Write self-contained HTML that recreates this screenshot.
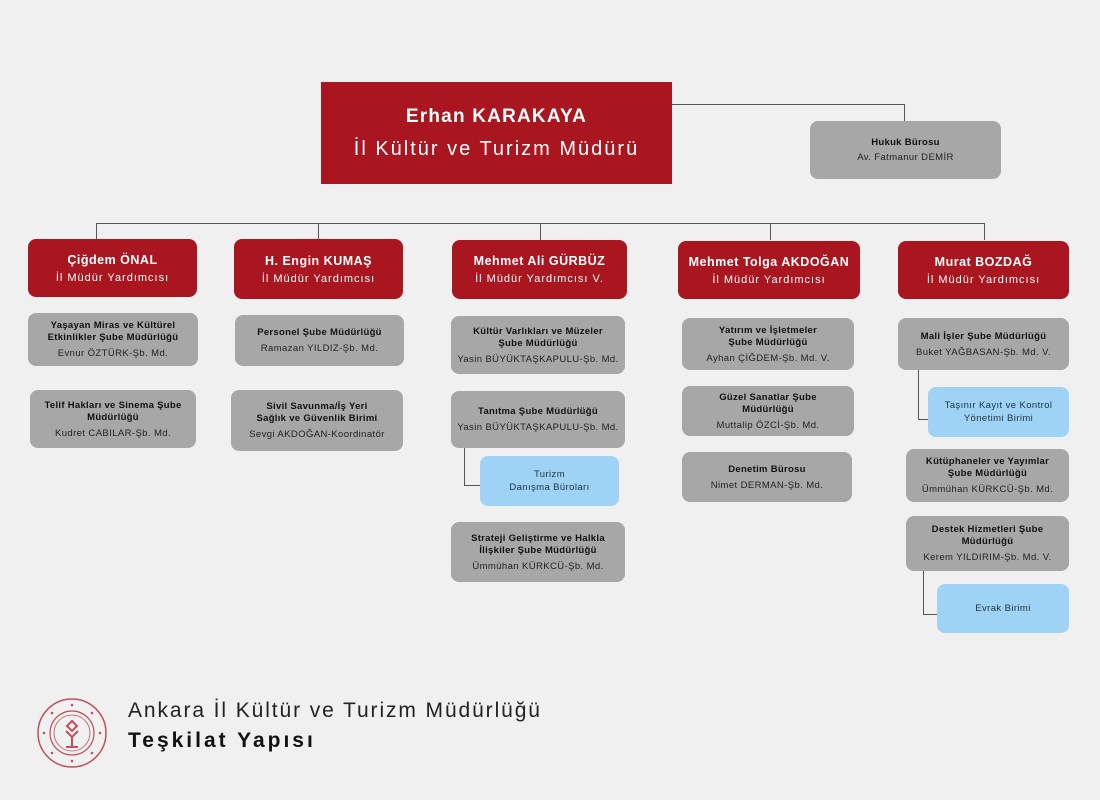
<!DOCTYPE html>
<html><head><meta charset="utf-8"><style>
body{margin:0;width:1100px;height:800px;background:#f0f0f0;position:relative;overflow:hidden;font-family:"Liberation Sans","DejaVu Sans",sans-serif}
.b{position:absolute;box-sizing:border-box;display:flex;flex-direction:column;justify-content:center;align-items:center;text-align:center;border-radius:8px;white-space:nowrap}
.r{background:#a9161f;color:#fff}
.r b{font-size:12.5px;margin-bottom:5px;letter-spacing:0.5px}
.r span{font-size:11px;letter-spacing:1px}
.g{background:#a7a7a7;color:#111}
.g b{font-size:9.5px;line-height:12px;letter-spacing:0.3px}
.g span{font-size:9.5px;margin-top:4px;color:#222;letter-spacing:0.4px}
.l{background:#9ed3f5;color:#234;font-size:9.5px;line-height:13px;letter-spacing:0.4px}
.ln{position:absolute;background:#555}
</style></head><body>
<div class="b r" style="left:321px;top:82px;width:351px;height:102px;border-radius:0"><b style="font-size:19px;margin-bottom:10px;letter-spacing:1.2px">Erhan KARAKAYA</b><span style="font-size:20px;letter-spacing:2px">İl Kültür ve Turizm Müdürü</span></div>
<div class="ln" style="left:672px;top:104px;width:232px;height:1px"></div>
<div class="ln" style="left:904px;top:104px;width:1px;height:17px"></div>
<div class="b g" style="left:810px;top:121px;width:191px;height:58px"><b>Hukuk Bürosu</b><span style="margin-top:3px">Av. Fatmanur DEMİR</span></div>

<div class="ln" style="left:96px;top:223px;width:889px;height:1px"></div>
<div class="ln" style="left:96px;top:223px;width:1px;height:17px"></div>
<div class="ln" style="left:318px;top:223px;width:1px;height:17px"></div>
<div class="ln" style="left:540px;top:223px;width:1px;height:17px"></div>
<div class="ln" style="left:770px;top:223px;width:1px;height:17px"></div>
<div class="ln" style="left:984px;top:223px;width:1px;height:17px"></div>

<div class="b r" style="left:28px;top:239px;width:169px;height:58px"><b>Çiğdem ÖNAL</b><span>İl Müdür Yardımcısı</span></div>
<div class="b r" style="left:234px;top:239px;width:169px;height:60px"><b>H. Engin KUMAŞ</b><span>İl Müdür Yardımcısı</span></div>
<div class="b r" style="left:452px;top:240px;width:175px;height:59px"><b>Mehmet Ali GÜRBÜZ</b><span>İl Müdür Yardımcısı V.</span></div>
<div class="b r" style="left:678px;top:241px;width:182px;height:58px"><b>Mehmet Tolga AKDOĞAN</b><span>İl Müdür Yardımcısı</span></div>
<div class="b r" style="left:898px;top:241px;width:171px;height:58px"><b>Murat BOZDAĞ</b><span>İl Müdür Yardımcısı</span></div>

<div class="b g" style="left:28px;top:313px;width:170px;height:53px"><b>Yaşayan Miras ve Kültürel<br>Etkinlikler Şube Müdürlüğü</b><span>Evnur ÖZTÜRK-Şb. Md.</span></div>
<div class="b g" style="left:30px;top:390px;width:166px;height:58px"><b>Telif Hakları ve Sinema Şube<br>Müdürlüğü</b><span>Kudret CABILAR-Şb. Md.</span></div>

<div class="b g" style="left:235px;top:315px;width:169px;height:51px"><b>Personel Şube Müdürlüğü</b><span>Ramazan YILDIZ-Şb. Md.</span></div>
<div class="b g" style="left:231px;top:390px;width:172px;height:61px"><b>Sivil Savunma/İş Yeri<br>Sağlık ve Güvenlik Birimi</b><span>Sevgi AKDOĞAN-Koordinatör</span></div>

<div class="b g" style="left:451px;top:316px;width:174px;height:58px"><b>Kültür Varlıkları ve Müzeler<br>Şube Müdürlüğü</b><span>Yasin BÜYÜKTAŞKAPULU-Şb. Md.</span></div>
<div class="b g" style="left:451px;top:391px;width:174px;height:57px"><b>Tanıtma Şube Müdürlüğü</b><span>Yasin BÜYÜKTAŞKAPULU-Şb. Md.</span></div>
<div class="ln" style="left:464px;top:448px;width:1px;height:37px"></div>
<div class="ln" style="left:464px;top:485px;width:16px;height:1px"></div>
<div class="b l" style="left:480px;top:456px;width:139px;height:50px">Turizm<br>Danışma Büroları</div>
<div class="b g" style="left:451px;top:522px;width:174px;height:60px"><b>Strateji Geliştirme ve Halkla<br>İlişkiler Şube Müdürlüğü</b><span>Ümmühan KÜRKCÜ-Şb. Md.</span></div>

<div class="b g" style="left:682px;top:318px;width:172px;height:52px"><b>Yatırım ve İşletmeler<br>Şube Müdürlüğü</b><span>Ayhan ÇİĞDEM-Şb. Md. V.</span></div>
<div class="b g" style="left:682px;top:386px;width:172px;height:50px"><b>Güzel Sanatlar Şube<br>Müdürlüğü</b><span>Muttalip ÖZCİ-Şb. Md.</span></div>
<div class="b g" style="left:682px;top:452px;width:170px;height:50px"><b>Denetim Bürosu</b><span>Nimet DERMAN-Şb. Md.</span></div>

<div class="b g" style="left:898px;top:318px;width:171px;height:52px"><b>Mali İşler Şube Müdürlüğü</b><span>Buket YAĞBASAN-Şb. Md. V.</span></div>
<div class="ln" style="left:918px;top:370px;width:1px;height:49px"></div>
<div class="ln" style="left:918px;top:419px;width:10px;height:1px"></div>
<div class="b l" style="left:928px;top:387px;width:141px;height:50px">Taşınır Kayıt ve Kontrol<br>Yönetimi Birimi</div>
<div class="b g" style="left:906px;top:449px;width:163px;height:53px"><b>Kütüphaneler ve Yayımlar<br>Şube Müdürlüğü</b><span>Ümmühan KÜRKCÜ-Şb. Md.</span></div>
<div class="b g" style="left:906px;top:516px;width:163px;height:55px"><b>Destek Hizmetleri Şube<br>Müdürlüğü</b><span>Kerem YILDIRIM-Şb. Md. V.</span></div>
<div class="ln" style="left:923px;top:571px;width:1px;height:43px"></div>
<div class="ln" style="left:923px;top:614px;width:14px;height:1px"></div>
<div class="b l" style="left:937px;top:584px;width:132px;height:49px">Evrak Birimi</div>

<svg style="position:absolute;left:36px;top:697px" width="72" height="72" viewBox="0 0 72 72">
<circle cx="36" cy="36" r="34" fill="none" stroke="#c0505a" stroke-width="1.5"/>
<circle cx="36" cy="36" r="22" fill="none" stroke="#c0505a" stroke-width="1.2"/>
<circle cx="36" cy="36" r="18" fill="none" stroke="#c0505a" stroke-width="0.8"/>
<g fill="#c0505a"><circle cx="36" cy="8" r="1.3"/><circle cx="36" cy="64" r="1.3"/><circle cx="8" cy="36" r="1.3"/><circle cx="64" cy="36" r="1.3"/><circle cx="16" cy="16" r="1.3"/><circle cx="56" cy="16" r="1.3"/><circle cx="16" cy="56" r="1.3"/><circle cx="56" cy="56" r="1.3"/></g>
<path d="M36 24 l5 5 -5 5 -5 -5z M30 34 l6 6 6 -6 M36 40 v10 M30 50 h12" fill="none" stroke="#c0505a" stroke-width="2"/>
</svg>
<div style="position:absolute;left:128px;top:699px;font-size:21px;color:#222;letter-spacing:1.9px;white-space:nowrap">Ankara İl Kültür ve Turizm Müdürlüğü</div>
<div style="position:absolute;left:128px;top:729px;font-size:21px;font-weight:bold;color:#111;letter-spacing:3px;white-space:nowrap">Teşkilat Yapısı</div>
</body></html>
